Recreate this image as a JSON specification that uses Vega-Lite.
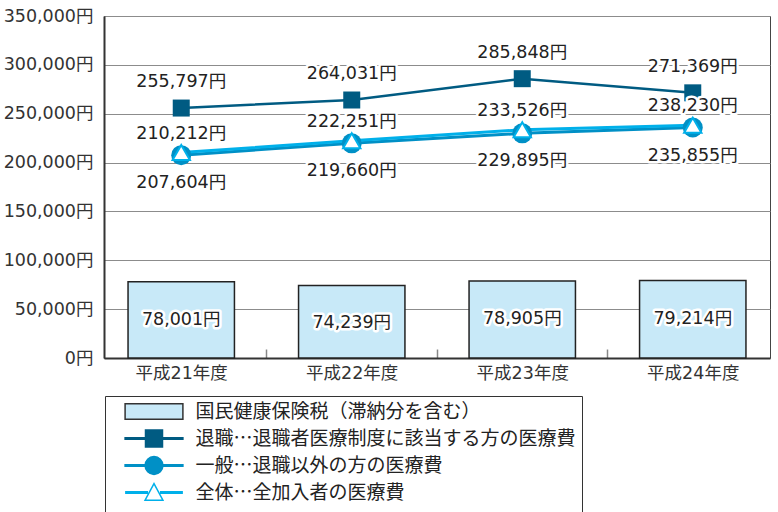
{
  "$schema": "https://vega.github.io/schema/vega-lite/v6.json",
  "width": 666,
  "height": 342,
  "autosize": {"type": "none"},
  "padding": {"left": 104, "top": 16, "right": 8, "bottom": 154},
  "background": "white",
  "datasets": {
    "main": [
      {"year": "平成21年度", "tax": 78001, "retired": 255797, "general": 207604, "total": 210212},
      {"year": "平成22年度", "tax": 74239, "retired": 264031, "general": 219660, "total": 222251},
      {"year": "平成23年度", "tax": 78905, "retired": 285848, "general": 229895, "total": 233526},
      {"year": "平成24年度", "tax": 79214, "retired": 271369, "general": 235855, "total": 238230}
    ],
    "legend": [
      {"item": "国民健康保険税（滞納分を含む）"},
      {"item": "退職…退職者医療制度に該当する方の医療費"},
      {"item": "一般…退職以外の方の医療費"},
      {"item": "全体…全加入者の医療費"}
    ]
  },
  "data": {"name": "main"},
  "layer": [
    {
      "mark": {"type": "bar", "fill": "#c8e9f8", "stroke": "#222", "strokeWidth": 1.5},
      "encoding": {
        "x": {
          "field": "year", "type": "nominal", "title": null,
          "scale": {"type": "band", "paddingInner": 0.376, "paddingOuter": 0.141},
          "axis": {
            "tickOffset": 85,
            "labelOffset": -85,
            "tickOpacity": {"condition": {"test": "datum.value === '平成24年度'", "value": 0}, "value": 1}
          }
        },
        "y": {
          "field": "tax", "type": "quantitative", "title": null,
          "scale": {"domain": [0, 350000], "nice": false},
          "axis": {"values": [0, 50000, 100000, 150000, 200000, 250000, 300000, 350000]}
        }
      }
    },
    {
      "mark": {"type": "line", "color": "#005b82", "strokeWidth": 2.5},
      "encoding": {
        "x": {"field": "year", "type": "nominal", "title": null},
        "y": {"field": "retired", "type": "quantitative", "title": null, "scale": {"domain": [0, 350000], "nice": false}}
      }
    },
    {
      "mark": {"type": "line", "color": "#0090c6", "strokeWidth": 3},
      "encoding": {
        "x": {"field": "year", "type": "nominal", "title": null},
        "y": {"field": "general", "type": "quantitative", "title": null, "scale": {"domain": [0, 350000], "nice": false}}
      }
    },
    {
      "mark": {"type": "line", "color": "#00b0ea", "strokeWidth": 3},
      "encoding": {
        "x": {"field": "year", "type": "nominal", "title": null},
        "y": {"field": "total", "type": "quantitative", "title": null, "scale": {"domain": [0, 350000], "nice": false}}
      }
    },
    {
      "mark": {"type": "point", "shape": "square", "filled": true, "size": 289, "color": "#005b82", "opacity": 1},
      "encoding": {
        "x": {"field": "year", "type": "nominal", "title": null},
        "y": {"field": "retired", "type": "quantitative", "title": null, "scale": {"domain": [0, 350000], "nice": false}}
      }
    },
    {
      "mark": {"type": "point", "shape": "circle", "filled": true, "size": 400, "color": "#0090c6", "opacity": 1},
      "encoding": {
        "x": {"field": "year", "type": "nominal", "title": null},
        "y": {"field": "general", "type": "quantitative", "title": null, "scale": {"domain": [0, 350000], "nice": false}}
      }
    },
    {
      "mark": {"type": "point", "shape": "triangle-up", "filled": true, "size": 300, "fill": "white", "stroke": "#00b0ea", "strokeWidth": 2, "opacity": 1, "fillOpacity": 1},
      "encoding": {
        "x": {"field": "year", "type": "nominal", "title": null},
        "y": {"field": "total", "type": "quantitative", "title": null, "scale": {"domain": [0, 350000], "nice": false}}
      }
    },
    {
      "mark": {"type": "text", "fontSize": 17.5, "font": "DejaVu Sans, Noto Sans CJK JP", "fill": "white", "stroke": "white", "strokeWidth": 5, "strokeJoin": "round", "dy": 38, "text": {"expr": "format(datum.tax, ',') + '円'"}},
      "encoding": {
        "x": {"field": "year", "type": "nominal", "title": null},
        "y": {"field": "tax", "type": "quantitative", "title": null, "scale": {"domain": [0, 350000], "nice": false}}
      }
    },
    {
      "mark": {"type": "text", "fontSize": 17.5, "font": "DejaVu Sans, Noto Sans CJK JP", "fill": "#222", "dy": 38, "text": {"expr": "format(datum.tax, ',') + '円'"}},
      "encoding": {
        "x": {"field": "year", "type": "nominal", "title": null},
        "y": {"field": "tax", "type": "quantitative", "title": null, "scale": {"domain": [0, 350000], "nice": false}}
      }
    },
    {
      "mark": {"type": "text", "fontSize": 17.5, "font": "DejaVu Sans, Noto Sans CJK JP", "fill": "white", "stroke": "white", "strokeWidth": 5, "strokeJoin": "round", "dy": -26, "text": {"expr": "format(datum.retired, ',') + '円'"}},
      "encoding": {
        "x": {"field": "year", "type": "nominal", "title": null},
        "y": {"field": "retired", "type": "quantitative", "title": null, "scale": {"domain": [0, 350000], "nice": false}}
      }
    },
    {
      "mark": {"type": "text", "fontSize": 17.5, "font": "DejaVu Sans, Noto Sans CJK JP", "fill": "#222", "dy": -26, "text": {"expr": "format(datum.retired, ',') + '円'"}},
      "encoding": {
        "x": {"field": "year", "type": "nominal", "title": null},
        "y": {"field": "retired", "type": "quantitative", "title": null, "scale": {"domain": [0, 350000], "nice": false}}
      }
    },
    {
      "mark": {"type": "text", "fontSize": 17.5, "font": "DejaVu Sans, Noto Sans CJK JP", "fill": "white", "stroke": "white", "strokeWidth": 5, "strokeJoin": "round", "dy": -19, "text": {"expr": "format(datum.total, ',') + '円'"}},
      "encoding": {
        "x": {"field": "year", "type": "nominal", "title": null},
        "y": {"field": "total", "type": "quantitative", "title": null, "scale": {"domain": [0, 350000], "nice": false}}
      }
    },
    {
      "mark": {"type": "text", "fontSize": 17.5, "font": "DejaVu Sans, Noto Sans CJK JP", "fill": "#222", "dy": -19, "text": {"expr": "format(datum.total, ',') + '円'"}},
      "encoding": {
        "x": {"field": "year", "type": "nominal", "title": null},
        "y": {"field": "total", "type": "quantitative", "title": null, "scale": {"domain": [0, 350000], "nice": false}}
      }
    },
    {
      "mark": {"type": "text", "fontSize": 17.5, "font": "DejaVu Sans, Noto Sans CJK JP", "fill": "white", "stroke": "white", "strokeWidth": 5, "strokeJoin": "round", "dy": 28, "text": {"expr": "format(datum.general, ',') + '円'"}},
      "encoding": {
        "x": {"field": "year", "type": "nominal", "title": null},
        "y": {"field": "general", "type": "quantitative", "title": null, "scale": {"domain": [0, 350000], "nice": false}}
      }
    },
    {
      "mark": {"type": "text", "fontSize": 17.5, "font": "DejaVu Sans, Noto Sans CJK JP", "fill": "#222", "dy": 28, "text": {"expr": "format(datum.general, ',') + '円'"}},
      "encoding": {
        "x": {"field": "year", "type": "nominal", "title": null},
        "y": {"field": "general", "type": "quantitative", "title": null, "scale": {"domain": [0, 350000], "nice": false}}
      }
    },
    {
      "data": {"name": "legend"},
      "mark": {"type": "point", "filled": true, "opacity": 0},
      "encoding": {
        "shape": {
          "field": "item", "type": "nominal", "sort": null,
          "scale": {
            "domain": ["国民健康保険税（滞納分を含む）", "退職…退職者医療制度に該当する方の医療費", "一般…退職以外の方の医療費", "全体…全加入者の医療費"],
            "range": [
              "M-3.4,-1.2L-3.4,-1.2M-3.4,1.2L-3.4,1.2M-3.4,-0.9H3.4V0.9H-3.4Z",
              "M-3.4,-1.2L-3.4,-1.2M-3.4,1.2L-3.4,1.2M-3.4,-0.1H-1V-1H1V-0.1H3.4V0.1H1V1H-1V0.1H-3.4Z",
              "M-3.4,-1.2L-3.4,-1.2M-3.4,1.2L-3.4,1.2M-3.4,-0.1H3.4V0.1H-3.4Z M1.05,0A1.05,1.05 0 1,1 -1.05,0A1.05,1.05 0 1,1 1.05,0Z",
              "M-3.4,-1.2L-3.4,-1.2M-3.4,1.2L-3.4,1.2M-3.4,-0.09H-0.7M-3.4,0.09H-0.7M0.7,-0.09H3.4M0.7,0.09H3.4M0,-1.05L1.05,0.9H-1.05Z"
            ]
          },
          "legend": {
            "title": null, "orient": "none", "legendX": 1, "legendY": 380, "direction": "vertical",
            "padding": 6, "strokeColor": "#333", "fillColor": "white",
            "symbolSize": 289, "symbolStrokeWidth": 1.5, "symbolOffset": 33.5, "labelOffset": 32,
            "rowPadding": 0, "labelFontSize": 19, "labelFont": "Noto Sans CJK JP", "labelColor": "#222", "labelLimit": 0
          }
        },
        "fill": {
          "field": "item", "type": "nominal", "sort": null,
          "scale": {
            "domain": ["国民健康保険税（滞納分を含む）", "退職…退職者医療制度に該当する方の医療費", "一般…退職以外の方の医療費", "全体…全加入者の医療費"],
            "range": ["#c8e9f8", "#005b82", "#0090c6", "white"]
          }
        },
        "stroke": {
          "field": "item", "type": "nominal", "sort": null,
          "scale": {
            "domain": ["国民健康保険税（滞納分を含む）", "退職…退職者医療制度に該当する方の医療費", "一般…退職以外の方の医療費", "全体…全加入者の医療費"],
            "range": ["#333333", "#005b82", "#0090c6", "#00b0ea"]
          }
        }
      }
    }
  ],
  "config": {
    "font": "Noto Sans CJK JP",
    "view": {"fill": "#e4e4e4", "stroke": "#444", "strokeWidth": 1},
    "legend": {"symbolFillColor": "white", "symbolStrokeColor": "#333", "symbolOpacity": 1},
    "axisY": {
      "labelExpr": "format(datum.value, ',') + '円'",
      "labelFontSize": 17.5, "labelFont": "DejaVu Sans, Noto Sans CJK JP", "labelColor": "#333",
      "grid": true, "gridColor": "#8c8c8c", "gridWidth": 1,
      "ticks": false, "labelPadding": 11,
      "domainColor": "#333", "domainWidth": 2
    },
    "axisX": {
      "labelFontSize": 17.5, "labelFont": "DejaVu Sans, Noto Sans CJK JP", "labelColor": "#333", "labelAngle": 0,
      "grid": false, "ticks": true, "tickColor": "#888", "tickWidth": 1.5, "tickSize": -9,
      "labelPadding": 15, "domainColor": "#333", "domainWidth": 2
    }
  }
}
